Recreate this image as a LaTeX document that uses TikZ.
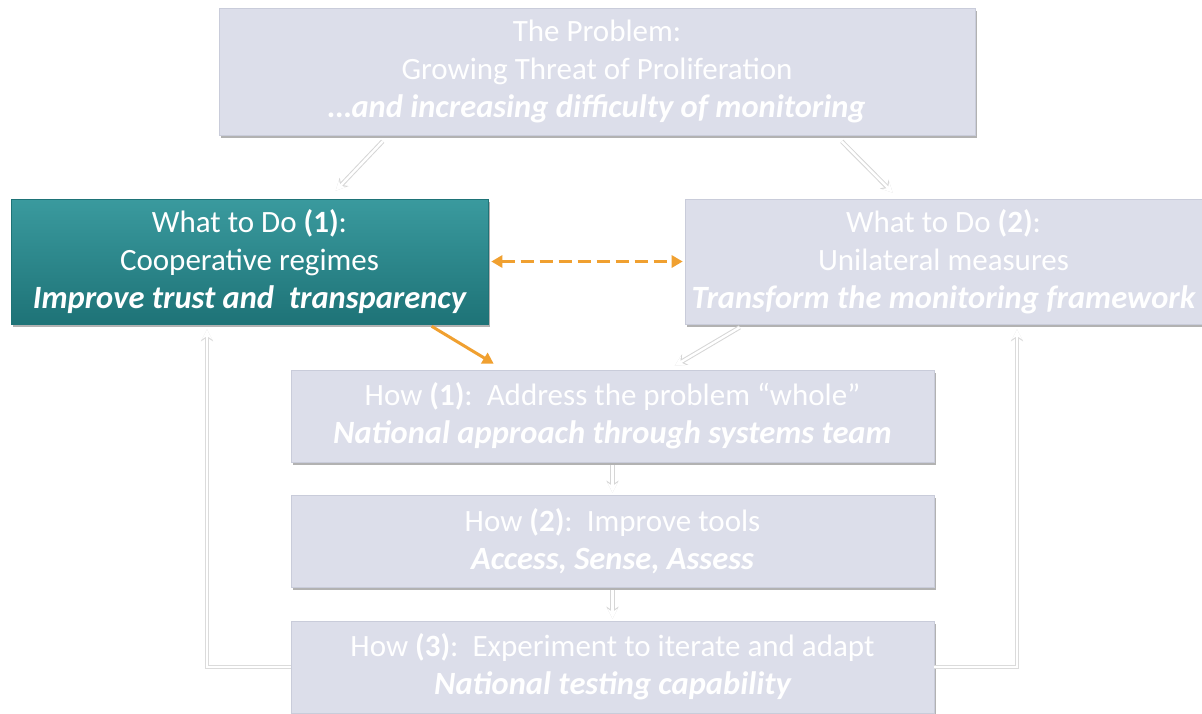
\documentclass[tikz,border=0pt]{standalone}
\usepackage{fontspec}
\setmainfont{Carlito}
\usetikzlibrary{arrows.meta,shadows,calc}
\definecolor{lav}{HTML}{DCDEEA}
\definecolor{lavedge}{HTML}{C9CCDA}
\definecolor{tealtop}{HTML}{3A9A9E}
\definecolor{tealbot}{HTML}{1E7377}
\definecolor{orng}{HTML}{F0A030}
\newcommand{\bitext}[1]{{\fontsize{32.5}{38}\selectfont\bfseries\itshape #1}}
\tikzset{
  box/.style={rectangle, fill=lav, draw=lavedge, line width=0.6pt, text=white, align=center,
    font=\fontsize{31}{38}\selectfont,
    drop shadow={shadow xshift=2pt, shadow yshift=-3pt, fill=black!55, opacity=0.55}},
  tealbox/.style={box, draw=tealbot, top color=tealtop, bottom color=tealbot},
  lightarrow/.style={draw=white, line width=2.4pt, -{Stealth[length=10pt,width=10pt]},
    preaction={draw=black!16, line width=4.4pt, -{Stealth[length=12pt,width=12pt]}}},
  lightline/.style={draw=white, line width=2.4pt, -{Stealth[length=10pt,width=10pt]},
    preaction={draw=black!14, line width=4.4pt, -{Stealth[length=12pt,width=12pt]}}},
  orarrow/.style={draw=orng, line width=3pt, -{Triangle[length=11pt,width=12pt]}},
  ordash/.style={draw=orng, line width=3.5pt, dash pattern=on 13pt off 6pt,
    {Triangle[length=11pt,width=12pt]}-{Triangle[length=11pt,width=12pt]}}
}
\begin{document}
\begin{tikzpicture}[x=1pt,y=-1pt]
\useasboundingbox (0,0) rectangle (1202,713);
\fill[white] (0,0) rectangle (1202,713);

\node[box, minimum width=756pt, minimum height=127pt] (top) at (597,71.5)
  {The Problem:\\Growing Threat of Proliferation\\\bitext{\ldots and increasing difficulty of monitoring}};

\node[tealbox, minimum width=477pt, minimum height=125pt] (w1) at (249.5,261.5)
  {What to Do \textbf{(1)}:\\Cooperative regimes\\\bitext{Improve trust and\ \ transparency}};

\node[box, minimum width=517pt, minimum height=125pt] (w2) at (943.5,261.5)
  {What to Do \textbf{(2)}:\\Unilateral measures\\\bitext{Transform the monitoring framework}};

\node[box, minimum width=643pt, minimum height=92pt] (h1) at (612.5,416)
  {How \textbf{(1)}:\ \ Address the problem ``whole''\\\bitext{National approach through systems team}};

\node[box, minimum width=643pt, minimum height=92pt] (h2) at (612.5,541)
  {How \textbf{(2)}:\ \ Improve tools\\\bitext{Access, Sense, Assess}};

\node[box, minimum width=643pt, minimum height=92pt] (h3) at (612.5,667)
  {How \textbf{(3)}:\ \ Experiment to iterate and adapt\\\bitext{National testing capability}};

\coordinate (lx) at (207,0);
\coordinate (rx) at (1017,0);

% problem -> what to do
\draw[lightarrow] ([xshift=164pt,yshift=-6pt]top.south west) -- ([xshift=325pt,yshift=8pt]w1.north west);
\draw[lightarrow] ([xshift=623pt,yshift=-6pt]top.south west) -- ([xshift=208pt,yshift=6pt]w2.north west);

% between what to do
\draw[ordash] ([xshift=3pt]w1.east) -- ([xshift=-2pt]w2.west);

% what to do -> how 1
\draw[orarrow] ([xshift=421pt,yshift=-2pt]w1.south west) -- ([xshift=203pt,yshift=6pt]h1.north west);
\draw[lightarrow] ([xshift=55pt,yshift=-3pt]w2.south west) -- ([xshift=384pt,yshift=4pt]h1.north west);

% how chain
\draw[lightarrow] ([yshift=-3pt]h1.south) -- ([yshift=2pt]h2.north);
\draw[lightarrow] ([yshift=-3pt]h2.south) -- ([yshift=2pt]h3.north);

% feedback loops
\draw[lightline] (h3.west) -| ([yshift=-5pt]w1.south -| lx);
\draw[lightline] (h3.east) -| ([yshift=-5pt]w2.south -| rx);
\end{tikzpicture}
\end{document}
